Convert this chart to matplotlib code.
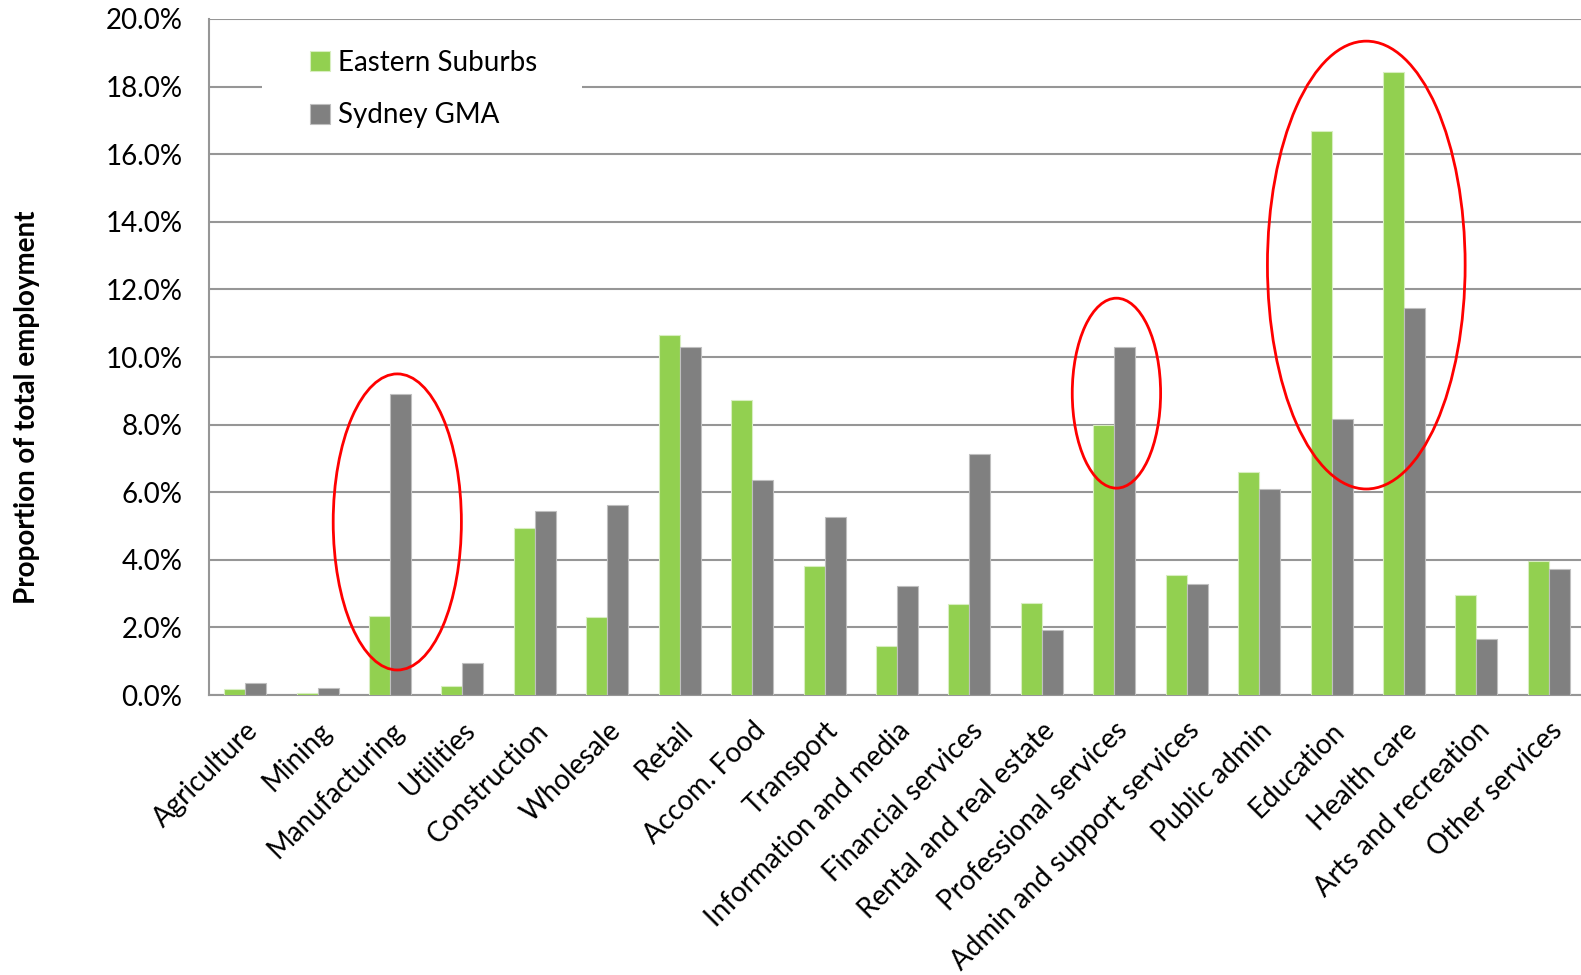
import matplotlib
matplotlib.use("Agg")
import matplotlib.pyplot as plt
from matplotlib.patches import Ellipse, Rectangle
import numpy as np

categories = ["Agriculture", "Mining", "Manufacturing", "Utilities", "Construction",
              "Wholesale", "Retail", "Accom. Food", "Transport", "Information and media",
              "Financial services", "Rental and real estate", "Professional services",
              "Admin and support services", "Public admin", "Education", "Health care",
              "Arts and recreation", "Other services"]
eastern_suburbs = [0.18, 0.06, 2.34, 0.27, 4.94, 2.31, 10.65, 8.73, 3.82, 1.45,
                   2.69, 2.72, 7.99, 3.55, 6.60, 16.70, 18.43, 2.96, 3.96]
sydney_gma = [0.35, 0.20, 8.90, 0.95, 5.44, 5.62, 10.30, 6.36, 5.27, 3.22,
              7.13, 1.92, 10.30, 3.28, 6.09, 8.17, 11.45, 1.66, 3.73]
yticks = [0, 2, 4, 6, 8, 10, 12, 14, 16, 18, 20]

plt.rcParams['font.family'] = ['Lato', 'DejaVu Sans']

W, H = 1581, 975
fig = plt.figure(figsize=(W / 100, H / 100), dpi=100)
left, right, top, bottom = 209, 1585, 19, 695
ax = fig.add_axes([left / W, 1 - bottom / H, (right - left) / W, (bottom - top) / H])

x = np.arange(len(categories))
bw = 0.29
green = "#92d050"
gray = "#808080"
ax.bar(x - bw / 2, eastern_suburbs, bw, color=green, edgecolor="#d8eec0", linewidth=0.8,
       label="Eastern Suburbs", zorder=3)
ax.bar(x + bw / 2, sydney_gma, bw, color=gray, edgecolor="#bfbfbf", linewidth=0.8,
       label="Sydney GMA", zorder=3)

ax.set_xlim(-0.5, len(categories) - 0.5)
ax.set_ylim(0, 20)
ax.set_yticks(yticks)
ax.set_yticklabels([f"{v:.1f}%" for v in yticks], fontsize=20)
ax.yaxis.grid(True, color="#969696", linewidth=1.5, zorder=0)
ax.set_axisbelow(True)
ax.tick_params(axis='y', length=0, pad=19)
ax.tick_params(axis='x', length=0, pad=16)
ax.set_xticks(x)
ax.set_xticklabels(categories, rotation=45, ha='right', rotation_mode='anchor', fontsize=20)
for s in ['top', 'right']:
    ax.spines[s].set_visible(False)
for s in ['left', 'bottom']:
    ax.spines[s].set_color("#969696")
    ax.spines[s].set_linewidth(1.5)

ax.set_ylabel("Proportion of total employment", fontsize=20, fontweight='bold')
ax.yaxis.set_label_coords(-0.1228, 0.426)

# white legend background masking the gridline
ax.add_patch(Rectangle(((262 - left) / (right - left), (bottom - 140) / (bottom - top)),
                       (582 - 262) / (right - left), 100 / (bottom - top),
                       transform=ax.transAxes, facecolor="white", edgecolor="none", zorder=4))
leg = ax.legend(loc='upper left', bbox_to_anchor=((304 - left) / (right - left), (bottom - 44) / (bottom - top)),
                frameon=False, fontsize=20, handlelength=0.72, handleheight=0.72,
                handletextpad=0.3, labelspacing=0.97, borderpad=0.2, borderaxespad=0)
leg.set_zorder(5)

for (cx, cy, w, h) in [(2.10, 5.12, 1.77, 8.76), (12.03, 8.93, 1.22, 5.62), (15.48, 12.72, 2.73, 13.25)]:
    ax.add_patch(Ellipse((cx, cy), w, h, fill=False, edgecolor="red", linewidth=2, zorder=6,
                         clip_on=False))

fig.savefig("out.png", dpi=100)
